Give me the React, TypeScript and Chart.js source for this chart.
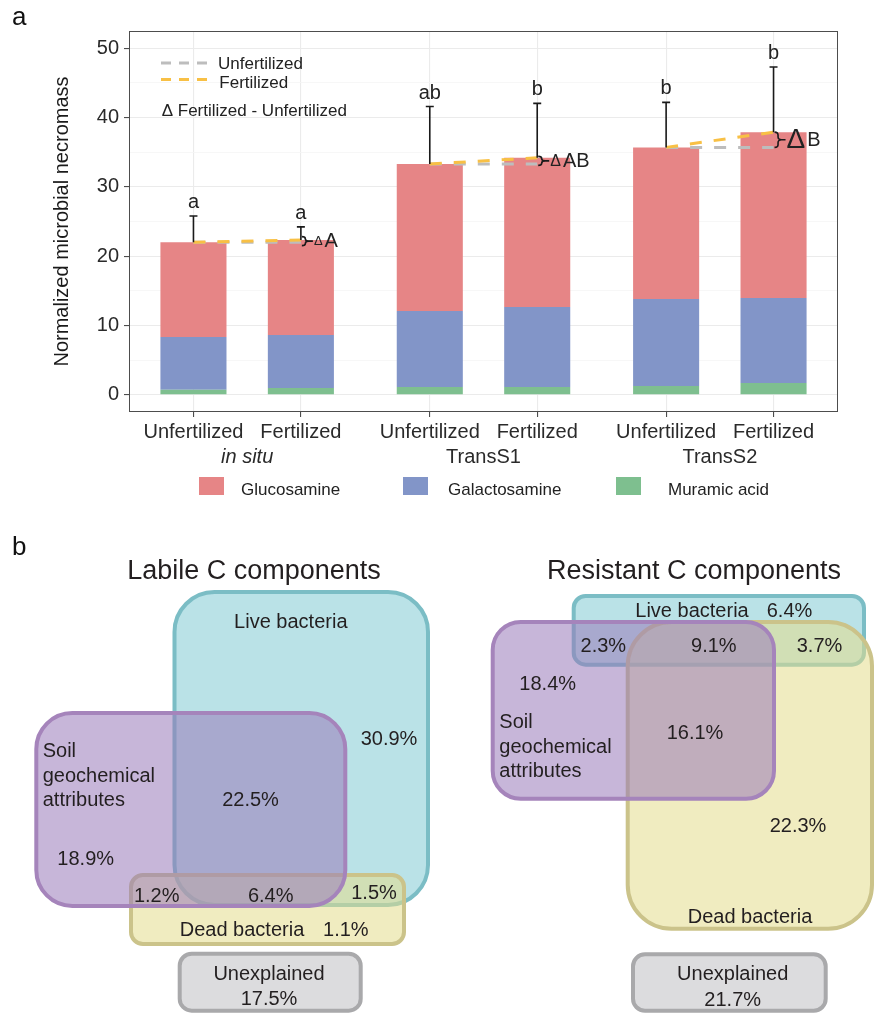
import React, { useEffect, useRef } from 'react';
import { Chart, registerables } from 'chart.js';

Chart.register(...registerables);

const FONT = "'Liberation Sans', Arial, Helvetica, sans-serif";
const INK = '#222222';

// ---------- Panel a: necromass by amino sugar ----------
const treatments = ['Unfertilized', 'Fertilized', 'Unfertilized', 'Fertilized', 'Unfertilized', 'Fertilized'];
const sites = ['in situ', 'TransS1', 'TransS2'];
const xPositions = [1, 2, 3.2, 4.2, 5.4, 6.4];
const glucosamine = [13.67, 13.71, 21.22, 21.56, 21.89, 23.94];
const galactosamine = [7.61, 7.65, 10.97, 11.53, 12.55, 12.27];
const muramicAcid = [0.72, 0.97, 1.11, 1.11, 1.26, 1.69];
const errorUpper = [3.8, 1.9, 8.3, 7.85, 6.5, 9.4];
const barLetters = ['a', 'a', 'ab', 'b', 'b', 'b'];
const deltaLetters = ['A', 'AB', 'B'];
const yTickValues = [0, 5, 10, 15, 20, 25, 30, 35, 40, 45, 50];

const totals = glucosamine.map((g, i) => g + galactosamine[i] + muramicAcid[i]);

// ---------- Panel b: variance partitioning ----------
// labile regions: live only, soil only, soil∩live, soil∩dead, all three, live∩dead, dead only, unexplained
const labileShares = [30.9, 18.9, 22.5, 1.2, 6.4, 1.5, 1.1, 17.5];
// resistant regions: live only, soil only, soil∩live, all three, live∩dead, soil∩dead, dead only, unexplained
const resistantShares = [6.4, 18.4, 2.3, 9.1, 3.7, 16.1, 22.3, 21.7];
const setNames = ['Live bacteria', 'Soil', 'geochemical', 'attributes', 'Dead bacteria', 'Unexplained'];

// styles
const COLORS = {
  glucosamine: '#e68586',
  galactosamine: '#8295c8',
  muramic: '#7ebf8f',
  unfert: '#bdbdbd',
  fert: '#f8c045',
};
const deltaFontSizes = [13, 16, 28];

const SET_STYLE: Record<string, { fill: string; stroke: string }> = {
  live: { fill: 'rgba(130,202,211,0.55)', stroke: '#7bbdc5' },
  dead: { fill: 'rgba(228,220,141,0.55)', stroke: '#cbc38a' },
  soil: { fill: 'rgba(153,122,186,0.55)', stroke: '#a584bb' },
  none: { fill: 'rgba(220,220,222,1)', stroke: '#a9a9ab' },
};

// box outlines in page units (drawn in this order)
const labileBoxes = [
  { set: 'live', x0: 174.5, y0: 592, x1: 428, y1: 905, r: 40 },
  { set: 'dead', x0: 131, y0: 875, x1: 404, y1: 944, r: 12 },
  { set: 'soil', x0: 36.3, y0: 713, x1: 345.3, y1: 906, r: 36 },
  { set: 'none', x0: 179.7, y0: 953.7, x1: 360.7, y1: 1010.7, r: 12 },
];
const resistantBoxes = [
  { set: 'live', x0: 573.7, y0: 596, x1: 864, y1: 664.7, r: 12 },
  { set: 'dead', x0: 627.7, y0: 622, x1: 872, y1: 928.7, r: 44 },
  { set: 'soil', x0: 492.7, y0: 622, x1: 774, y1: 798.7, r: 28 },
  { set: 'none', x0: 633, y0: 954.3, x1: 825.7, y1: 1010.8, r: 12 },
];
const labileShareSpots = [
  [389, 745], [85.7, 865], [250.5, 805.7], [156.7, 901.7],
  [270.7, 901.7], [374, 899], [345.8, 935.7], [269, 1005],
];
const resistantShareSpots = [
  [789.5, 617.3], [547.7, 690], [603.3, 651.7], [713.8, 651.7],
  [819.5, 651.7], [695, 739], [798, 832.3], [732.7, 1005.7],
];

function roundRectPath(ctx: CanvasRenderingContext2D, x0: number, y0: number, x1: number, y1: number, r: number) {
  ctx.beginPath();
  ctx.moveTo(x0 + r, y0);
  ctx.lineTo(x1 - r, y0);
  ctx.arcTo(x1, y0, x1, y0 + r, r);
  ctx.lineTo(x1, y1 - r);
  ctx.arcTo(x1, y1, x1 - r, y1, r);
  ctx.lineTo(x0 + r, y1);
  ctx.arcTo(x0, y1, x0, y1 - r, r);
  ctx.lineTo(x0, y0 + r);
  ctx.arcTo(x0, y0, x0 + r, y0, r);
  ctx.closePath();
}

function drawBrace(ctx: CanvasRenderingContext2D, x0: number, top: number, bottom: number, w: number, tick: number) {
  const ym = (top + bottom) / 2;
  const h = bottom - top;
  const q = Math.min(3, h / 4);
  const xm = x0 + w / 2;
  ctx.beginPath();
  ctx.moveTo(x0, top);
  ctx.quadraticCurveTo(xm, top, xm, top + q);
  ctx.lineTo(xm, ym - q);
  ctx.quadraticCurveTo(xm, ym, x0 + w, ym);
  ctx.quadraticCurveTo(xm, ym, xm, ym + q);
  ctx.lineTo(xm, bottom - q);
  ctx.quadraticCurveTo(xm, bottom, x0, bottom);
  ctx.moveTo(x0 + w, ym);
  ctx.lineTo(x0 + w + tick, ym);
  ctx.stroke();
}

const panelAPlugin = {
  id: 'panelAOverlay',
  afterDraw(chart: any) {
    const { ctx, chartArea } = chart;
    const xs = chart.scales.x;
    const ys = chart.scales.y;
    const xPx = (v: number) => xs.getPixelForValue(v);
    const yPx = (v: number) => ys.getPixelForValue(v);
    ctx.save();

    // panel frame
    ctx.strokeStyle = '#4d4d4d';
    ctx.lineWidth = 1;
    ctx.strokeRect(chartArea.left + 0.5, chartArea.top + 0.5, chartArea.right - chartArea.left - 1, chartArea.bottom - chartArea.top - 1);

    // error bars and significance letters
    ctx.strokeStyle = '#1a1a1a';
    ctx.fillStyle = INK;
    ctx.lineWidth = 1.6;
    ctx.font = `20px ${FONT}`;
    ctx.textAlign = 'center';
    ctx.textBaseline = 'alphabetic';
    xPositions.forEach((xv, i) => {
      const cx = xPx(xv);
      const yb = yPx(totals[i]);
      const yt = yPx(totals[i] + errorUpper[i]);
      ctx.beginPath();
      ctx.moveTo(cx, yb);
      ctx.lineTo(cx, yt);
      ctx.moveTo(cx - 4, yt);
      ctx.lineTo(cx + 4, yt);
      ctx.stroke();
      ctx.fillText(barLetters[i], cx, yt - 8);
    });

    // fertilization difference braces
    deltaLetters.forEach((letter, g) => {
      const iU = 2 * g;
      const iF = 2 * g + 1;
      const cx = xPx(xPositions[iF]);
      const a = yPx(totals[iU]);
      const b = yPx(totals[iF]);
      let top = Math.min(a, b);
      let bottom = Math.max(a, b);
      const ym = (top + bottom) / 2;
      if (bottom - top < 9) {
        top = ym - 4.5;
        bottom = ym + 4.5;
      }
      ctx.strokeStyle = '#1a1a1a';
      ctx.lineWidth = 1.6;
      drawBrace(ctx, cx + 1, top, bottom, 7, 4);
      const dx = cx + 1 + 7 + 4 + 1;
      ctx.textAlign = 'left';
      ctx.textBaseline = 'middle';
      ctx.font = `${deltaFontSizes[g]}px ${FONT}`;
      ctx.fillText('\u0394', dx, ym + 0.5);
      const dw = ctx.measureText('\u0394').width;
      ctx.font = `20px ${FONT}`;
      ctx.fillText(letter, dx + dw + 2, ym + 0.5);
    });

    // inside legend
    ctx.lineWidth = 3;
    ctx.setLineDash([10, 8]);
    ctx.strokeStyle = COLORS.unfert;
    ctx.beginPath();
    ctx.moveTo(161, 63);
    ctx.lineTo(207, 63);
    ctx.stroke();
    ctx.strokeStyle = COLORS.fert;
    ctx.beginPath();
    ctx.moveTo(161, 79.5);
    ctx.lineTo(207, 79.5);
    ctx.stroke();
    ctx.setLineDash([]);
    ctx.font = `17px ${FONT}`;
    ctx.textAlign = 'left';
    ctx.textBaseline = 'alphabetic';
    ctx.fillStyle = INK;
    ctx.fillText('Unfertilized', 218, 68.5);
    ctx.fillText('Fertilized', 219.3, 87.5);
    ctx.fillText('\u0394 Fertilized - Unfertilized', 161.7, 116);

    // site labels under the treatment labels
    ctx.font = `20px ${FONT}`;
    ctx.textAlign = 'center';
    ctx.fillStyle = '#2a2a2a';
    sites.forEach((s, g) => {
      const cx = (xPx(xPositions[2 * g]) + xPx(xPositions[2 * g + 1])) / 2;
      ctx.font = g === 0 ? `italic 20px ${FONT}` : `20px ${FONT}`;
      ctx.fillText(s, cx, 463);
    });

    // bottom legend
    const legendItems = [
      { label: 'Glucosamine', color: COLORS.glucosamine, sx: 199, tx: 241 },
      { label: 'Galactosamine', color: COLORS.galactosamine, sx: 403, tx: 448 },
      { label: 'Muramic acid', color: COLORS.muramic, sx: 616, tx: 668 },
    ];
    ctx.font = `17px ${FONT}`;
    ctx.textAlign = 'left';
    legendItems.forEach((it) => {
      ctx.fillStyle = it.color;
      ctx.fillRect(it.sx, 477, 25, 18);
      ctx.fillStyle = INK;
      ctx.fillText(it.label, it.tx, 494.5);
    });

    // panel tag
    ctx.font = `26px ${FONT}`;
    ctx.fillStyle = '#111';
    ctx.fillText('a', 12, 25);
    ctx.restore();
  },
};

const vennPlugin = {
  id: 'vennDiagrams',
  afterDraw(chart: any) {
    const { ctx } = chart;
    const xs = chart.scales.x;
    const ys = chart.scales.y;
    const X = (v: number) => xs.getPixelForValue(v);
    const Y = (v: number) => ys.getPixelForValue(v);
    ctx.save();

    const drawBoxes = (boxes: any[]) => {
      boxes.forEach((b) => {
        const st = SET_STYLE[b.set];
        roundRectPath(ctx, X(b.x0), Y(b.y0), X(b.x1), Y(b.y1), b.r);
        ctx.fillStyle = st.fill;
        ctx.fill();
        ctx.lineWidth = 4;
        ctx.strokeStyle = st.stroke;
        ctx.stroke();
      });
    };
    drawBoxes(labileBoxes);
    drawBoxes(resistantBoxes);

    ctx.fillStyle = '#231f20';
    ctx.textBaseline = 'alphabetic';

    // titles and tag
    ctx.font = `27px ${FONT}`;
    ctx.textAlign = 'center';
    ctx.fillText('Labile C components', X(254), Y(579));
    ctx.fillText('Resistant C components', X(694), Y(578.5));
    ctx.textAlign = 'left';
    ctx.font = `26px ${FONT}`;
    ctx.fillStyle = '#111';
    ctx.fillText('b', X(12), Y(555));

    // set names
    ctx.fillStyle = '#231f20';
    ctx.font = `20px ${FONT}`;
    ctx.textAlign = 'center';
    ctx.fillText(setNames[0], X(290.8), Y(628.3));
    ctx.fillText(setNames[4], X(242), Y(935.7));
    ctx.fillText(setNames[5], X(269), Y(980));
    ctx.fillText(setNames[0], X(692), Y(617.3));
    ctx.fillText(setNames[4], X(750), Y(922.7));
    ctx.fillText(setNames[5], X(732.7), Y(980));
    ctx.textAlign = 'left';
    [756.7, 781.7, 805.7].forEach((yy, k) => ctx.fillText(setNames[1 + k], X(42.7), Y(yy)));
    [728.3, 753.3, 777.3].forEach((yy, k) => ctx.fillText(setNames[1 + k], X(499.3), Y(yy)));

    // region shares
    ctx.textAlign = 'center';
    labileShares.forEach((v, i) => {
      const [px, py] = labileShareSpots[i];
      ctx.fillText(`${v.toFixed(1)}%`, X(px), Y(py));
    });
    resistantShares.forEach((v, i) => {
      const [px, py] = resistantShareSpots[i];
      ctx.fillText(`${v.toFixed(1)}%`, X(px), Y(py));
    });
    ctx.restore();
  },
};

export default function App() {
  const aRef = useRef<HTMLCanvasElement>(null);
  const bRef = useRef<HTMLCanvasElement>(null);

  useEffect(() => {
    const point = (arr: number[]) => arr.map((v, i) => ({ x: xPositions[i], y: v }));
    const refLines: any[] = [];
    sites.forEach((_, g) => {
      const iU = 2 * g;
      const iF = 2 * g + 1;
      refLines.push({
        type: 'line',
        label: `Fertilized ${g}`,
        data: [
          { x: xPositions[iU], y: totals[iU] },
          { x: xPositions[iF], y: totals[iF] },
        ],
        borderColor: COLORS.fert,
        borderWidth: 3,
        borderDash: [12, 12],
        pointRadius: 0,
        fill: false,
        stack: `fert-${g}`,
        order: 0,
      });
      refLines.push({
        type: 'line',
        label: `Unfertilized ${g}`,
        data: [
          { x: xPositions[iU], y: totals[iU] },
          { x: xPositions[iF], y: totals[iU] },
        ],
        borderColor: COLORS.unfert,
        borderWidth: 3,
        borderDash: [12, 12],
        pointRadius: 0,
        fill: false,
        stack: `unfert-${g}`,
        order: 1,
      });
    });

    const chartA = new Chart(aRef.current as HTMLCanvasElement, {
      type: 'bar',
      data: {
        datasets: [
          { type: 'bar', label: 'Muramic acid', data: point(muramicAcid), backgroundColor: COLORS.muramic, order: 2 },
          { type: 'bar', label: 'Galactosamine', data: point(galactosamine), backgroundColor: COLORS.galactosamine, order: 2 },
          { type: 'bar', label: 'Glucosamine', data: point(glucosamine), backgroundColor: COLORS.glucosamine, order: 2 },
          ...refLines,
        ] as any,
      },
      options: {
        animation: false,
        responsive: false,
        events: [],
        layout: { padding: { top: 31, right: 37, left: 0, bottom: 0 } },
        datasets: { bar: { categoryPercentage: 1, barPercentage: 0.615, borderWidth: 0 } },
        plugins: { legend: { display: false }, tooltip: { enabled: false } },
        scales: {
          x: {
            type: 'linear',
            min: 0.4,
            max: 7.0,
            offset: false,
            stacked: true,
            afterBuildTicks: (scale: any) => {
              scale.ticks = xPositions.map((v) => ({ value: v }));
            },
            afterFit: (scale: any) => {
              scale.height = 103;
            },
            ticks: {
              callback: (_v: any, i: number) => treatments[i],
              font: { family: FONT, size: 20 },
              color: '#2a2a2a',
              padding: 3,
              maxRotation: 0,
              autoSkip: false,
            },
            grid: { offset: false, color: '#ebebeb', lineWidth: 1.1, tickLength: 5, tickColor: '#4d4d4d', tickWidth: 1.1 },
            border: { display: false },
          },
          y: {
            type: 'linear',
            min: -2.5,
            max: 52.5,
            stacked: true,
            afterBuildTicks: (scale: any) => {
              scale.ticks = yTickValues.map((v) => ({ value: v }));
            },
            afterFit: (scale: any) => {
              scale.width = 129;
            },
            ticks: {
              callback: (v: any) => (Number(v) % 10 === 0 ? String(v) : ''),
              font: { family: FONT, size: 20 },
              color: '#2a2a2a',
              padding: 5,
            },
            grid: {
              color: (c: any) => (c.tick && c.tick.value % 10 === 0 ? '#ebebeb' : '#f5f5f5'),
              lineWidth: (c: any) => (c.tick && c.tick.value % 10 === 0 ? 1.1 : 0.8),
              tickLength: 5,
              tickColor: (c: any) => (c.tick && c.tick.value % 10 === 0 ? '#4d4d4d' : 'rgba(0,0,0,0)'),
              tickWidth: 1.1,
            },
            border: { display: false },
            title: {
              display: true,
              text: 'Normalized microbial necromass',
              font: { family: FONT, size: 20 },
              color: '#1a1a1a',
              padding: { top: 50, bottom: 0 },
            },
          },
        },
      } as any,
      plugins: [panelAPlugin],
    });

    const chartB = new Chart(bRef.current as HTMLCanvasElement, {
      type: 'scatter',
      data: { datasets: [] },
      options: {
        animation: false,
        responsive: false,
        events: [],
        layout: { padding: 0 },
        plugins: { legend: { display: false }, tooltip: { enabled: false } },
        scales: {
          x: { type: 'linear', min: 0, max: 875, display: false },
          y: { type: 'linear', min: 515, max: 1013, reverse: true, display: false },
        },
      } as any,
      plugins: [vennPlugin],
    });

    return () => {
      chartA.destroy();
      chartB.destroy();
    };
  }, []);

  return (
    <div style={{ position: 'absolute', left: 0, top: 0, width: 875, height: 1013, background: '#ffffff' }}>
      <canvas ref={aRef} width={875} height={515} style={{ position: 'absolute', left: 0, top: 0 }} />
      <canvas ref={bRef} width={875} height={498} style={{ position: 'absolute', left: 0, top: 515 }} />
    </div>
  );
}
